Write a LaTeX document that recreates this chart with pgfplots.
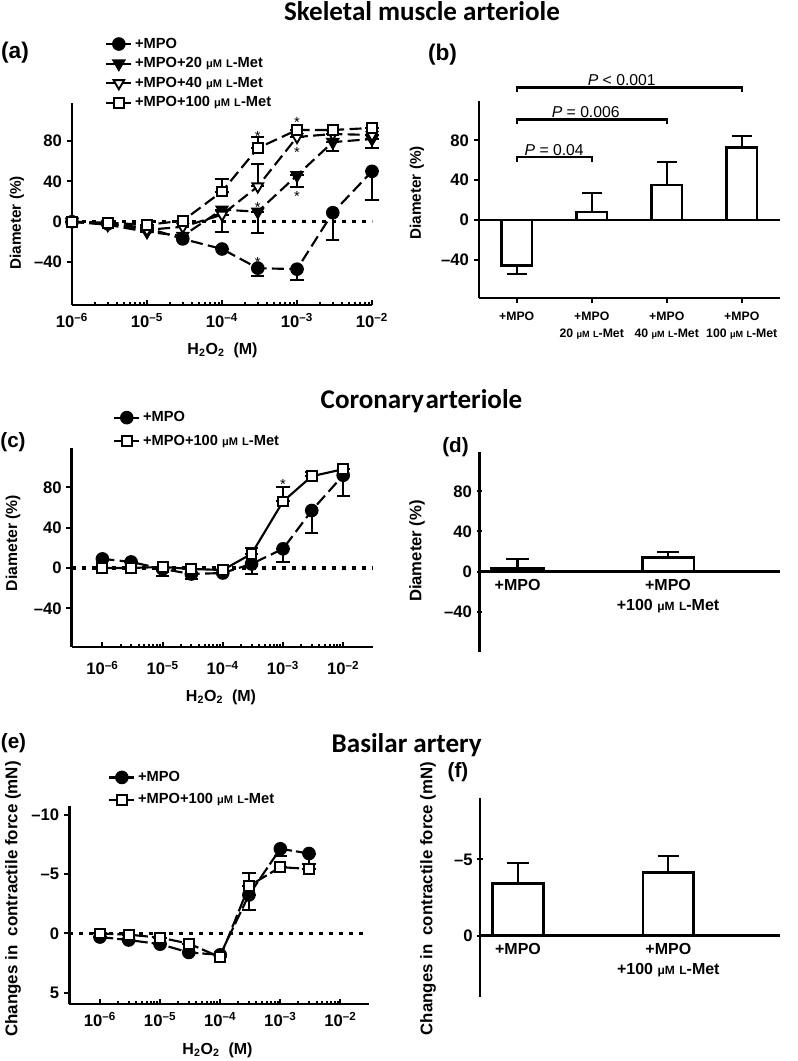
\documentclass[border=0pt]{standalone}
\usepackage{fontspec}
\setmainfont{Liberation Sans}
\newfontfamily\titlefont{Carlito}
\usepackage{pgfplots}
\usepackage{pgfplotstable}
\pgfplotsset{compat=1.18}

\newcommand\muM[1][8.3]{{\fontsize{#1}{#1}\selectfont μM}}
\newcommand\Lm[1][8.3]{{\fontsize{#1}{#1}\selectfont L}-Met}

\pgfplotsset{
  base/.style={scale only axis, anchor=south west, axis lines=left,
    axis line style={-, line width=2pt},
    every inner x axis line/.append style={-}, every outer x axis line/.append style={-},
    every inner y axis line/.append style={-}, every outer y axis line/.append style={-},
    tick style={black, line width=1.5pt},
    tick align=outside, major tick length=4pt, minor tick length=2.4pt,
    tick label style={font=\fontsize{12.5}{14}\selectfont\bfseries},
    clip=false, legend cell align=left,
    legend style={draw=none, fill=none, anchor=north west,
      font=\fontsize{11}{12}\selectfont\bfseries, row sep=1.5pt, inner sep=0pt},
    legend image code/.code={\draw[mark repeat=2,mark phase=2,##1,solid] plot coordinates {(0cm,0cm) (0.33cm,0cm) (0.66cm,0cm)};},
  },
  mylogticks/.style={xtick align=inside, xtick={1e-6,1e-5,1e-4,1e-3,1e-2},
    xticklabels={10\textsuperscript{–6},10\textsuperscript{–5},10\textsuperscript{–4},10\textsuperscript{–3},10\textsuperscript{–2}},
    xticklabel style={yshift=-3pt}},
  zeroline/.style={forget plot, black, line width=2.6pt, dash pattern=on 3pt off 4.5pt, mark=none},
  errb/.style={forget plot, draw=none, mark=none,
    /pgfplots/error bars/y dir=both, /pgfplots/error bars/y explicit,
    /pgfplots/error bars/error bar style={draw=black, solid, line width=1.5pt},
    /pgfplots/error bars/error mark options={draw=black, solid, rotate=90, line width=1.5pt, mark size=5pt}},
  ser/.style={black, line width=1.6pt},
  dsh/.style={dash pattern=on 9pt off 4pt},
  mcirc/.style={mark=*, mark size=4.3pt, mark options={solid, fill=black}},
  mtri/.style={mark=triangle*, mark size=4.6pt, mark options={solid, fill=black, rotate=180}},
  motri/.style={mark=triangle*, mark size=4.6pt, mark options={solid, fill=white, line width=1.4pt, rotate=180}},
  msq/.style={mark=square*, mark size=3.7pt, mark options={solid, fill=white, line width=1.5pt}},
  barst/.style={ybar, bar width=#1, fill=white, draw=black, line width=2pt,
    /pgfplots/error bars/y dir=both, /pgfplots/error bars/y explicit,
    /pgfplots/error bars/error bar style={line width=1.6pt, solid},
    /pgfplots/error bars/error mark options={line width=1.6pt, rotate=90, mark size=7.5pt, solid}},
}

\pgfplotstableread{
x y ep em
1e-6 0 0 0
3e-6 -2 0 0
1e-5 -6 0 0
3e-5 -17 0 0
1e-4 -27 0 0
3e-4 -46 0 8
1e-3 -47 0 11
3e-3 9 0 27
1e-2 50 0 28
}\aMPO
\pgfplotstableread{
x y ep em
1e-6 0 0 0
3e-6 -3 0 0
1e-5 -10 0 0
3e-5 -14 0 0
1e-4 12 0 22
3e-4 10 0 21
1e-3 46 0 12
3e-3 79 0 9
1e-2 82 0 9
}\aTwenty
\pgfplotstableread{
x y ep em
1e-6 0 0 0
3e-6 -2 0 0
1e-5 -8 0 0
3e-5 -5 0 0
1e-4 7 0 0
3e-4 35 22 0
1e-3 84 0 0
3e-3 87 0 0
1e-2 86 0 0
}\aForty
\pgfplotstableread{
x y ep em
1e-6 0 0 0
3e-6 -1 0 0
1e-5 -3 0 0
3e-5 1 0 0
1e-4 30 12 0
3e-4 73 11 0
1e-3 91 0 0
3e-3 91 0 0
1e-2 93 0 0
}\aHund
\pgfplotstableread{
x y ep em
0 -46 0 8
1 8 19 0
2 35 23 0
3 73 11 0
}\bBars
\pgfplotstableread{
x y ep em
1e-6 9 0 0
3e-6 6 0 0
1e-5 -1 0 7
3e-5 -6 0 5
1e-4 -5 0 0
3e-4 4 0 10
1e-3 19 0 13
3e-3 57 0 22
1e-2 92 0 21
}\cMPO
\pgfplotstableread{
x y ep em
1e-6 0 0 0
3e-6 0 0 0
1e-5 1 0 0
3e-5 -1 0 0
1e-4 -2 0 0
3e-4 14 6 0
1e-3 66 14 0
3e-3 91 4 0
1e-2 98 0 0
}\cHund
\pgfplotstableread{
x y ep em
0 3 10 0
1 14 6 0
}\dBars
\pgfplotstableread{
x y ep em
1e-6 0.3 0 0
3e-6 0.55 0 0
1e-5 0.9 0 0
3e-5 1.6 0 0
1e-4 1.8 0 0
3e-4 -3.25 1.25 0
1e-3 -7.15 0.65 0
3e-3 -6.75 0.85 0
}\eMPO
\pgfplotstableread{
x y ep em
1e-6 0 0 0
3e-6 0.1 0 0
1e-5 0.35 0 0
3e-5 0.85 0 0
1e-4 2.0 0 0
3e-4 -4.0 0 1.1
1e-3 -5.6 0 0
3e-3 -5.45 0 0
}\eHund
\pgfplotstableread{
x y ep em
0 -3.43 0 1.31
1 -4.13 0 1.09
}\fBars

\begin{document}
\begin{tikzpicture}
\path[use as bounding box] (0,0) rectangle (597.75pt,795.75pt);

% titles
\node[font={\titlefont\bfseries\fontsize{20.3}{20}\selectfont}, anchor=base] at ({422*0.75pt},{(1061-20.7)*0.75pt}) {Skeletal muscle arteriole};
\node[font={\titlefont\bfseries\fontsize{20.3}{20}\selectfont}, anchor=base] at ({421.5*0.75pt},{(1061-408.3)*0.75pt}) {Coronary\kern0.06em arteriole};
\node[font={\titlefont\bfseries\fontsize{20.3}{20}\selectfont}, anchor=base] at ({406.7*0.75pt},{(1061-753)*0.75pt}) {Basilar artery};

% panel letters
\node[font={\bfseries\fontsize{17}{17}\selectfont}] at ({15*0.75pt},{(1061-53)*0.75pt}) {(a)};
\node[font={\bfseries\fontsize{17}{17}\selectfont}] at ({442.5*0.75pt},{(1061-55)*0.75pt}) {(b)};
\node[font={\bfseries\fontsize{15.5}{15.5}\selectfont}] at ({13*0.75pt},{(1061-442)*0.75pt}) {(c)};
\node[font={\bfseries\fontsize{15.5}{15.5}\selectfont}] at ({455.5*0.75pt},{(1061-447)*0.75pt}) {(d)};
\node[font={\bfseries\fontsize{15.5}{15.5}\selectfont}] at ({13.5*0.75pt},{(1061-743.5)*0.75pt}) {(e)};
\node[font={\bfseries\fontsize{15.5}{15.5}\selectfont}] at ({458*0.75pt},{(1061-772)*0.75pt}) {(f)};

% y labels
\node[rotate=90, font={\bfseries\fontsize{11.5}{12}\selectfont}] at ({17*0.75pt},{(1061-223)*0.75pt}) {Diameter (\%)};
\node[rotate=90, font={\bfseries\fontsize{11.5}{12}\selectfont}] at ({417*0.75pt},{(1061-193)*0.75pt}) {Diameter (\%)};
\node[rotate=90, font={\bfseries\fontsize{11.8}{12}\selectfont}] at ({13*0.75pt},{(1061-543)*0.75pt}) {Diameter (\%)};
\node[rotate=90, font={\bfseries\fontsize{12.5}{12}\selectfont}] at ({417*0.75pt},{(1061-551)*0.75pt}) {Diameter (\%)};
\node[rotate=90, font={\bfseries\fontsize{12.7}{14}\selectfont}] at ({13*0.75pt},{(1061-899)*0.75pt}) {Changes in \ contractile force (mN)};
\node[rotate=90, font={\bfseries\fontsize{12.6}{12}\selectfont}] at ({428*0.75pt},{(1061-898.5)*0.75pt}) {Changes in \ contractile force (mN)};

% x labels
\node[font={\bfseries\fontsize{12}{12}\selectfont}] at ({222.5*0.75pt},{(1061-350)*0.75pt}) {H\textsubscript{2}O\textsubscript{2} \ (M)};
\node[font={\bfseries\fontsize{12}{12}\selectfont}] at ({221*0.75pt},{(1061-697)*0.75pt}) {H\textsubscript{2}O\textsubscript{2} \ (M)};
\node[font={\bfseries\fontsize{12}{12}\selectfont}] at ({217.5*0.75pt},{(1061-1050)*0.75pt}) {H\textsubscript{2}O\textsubscript{2} \ (M)};

% ---------------- (a)
\begin{axis}[base, xmode=log, mylogticks, at={(54pt,567pt)}, width=225pt, height=151.7pt,
  xmin=1e-6, xmax=1e-2, ymin=-82.5, ymax=118,
  ytick={-40,0,40,80}, yticklabels={–40,0,40,80},
  legend style={at={(0.11,1.335)}}]
\addplot[zeroline] coordinates {(1e-6,0) (1e-2,0)};
\addplot[errb] table[x=x,y=y,y error plus=ep,y error minus=em]{\aMPO};
\addplot[errb] table[x=x,y=y,y error plus=ep,y error minus=em]{\aTwenty};
\addplot[errb] table[x=x,y=y,y error plus=ep,y error minus=em]{\aForty};
\addplot[errb] table[x=x,y=y,y error plus=ep,y error minus=em]{\aHund};
\addplot[ser, dsh, mcirc] table[x=x,y=y]{\aMPO};
\addlegendentry{+MPO}
\addplot[ser, dsh, mtri] table[x=x,y=y]{\aTwenty};
\addlegendentry{+MPO+20 \muM\ \Lm}
\addplot[ser, dsh, motri] table[x=x,y=y]{\aForty};
\addlegendentry{+MPO+40 \muM\ \Lm}
\addplot[ser, dsh, msq] table[x=x,y=y]{\aHund};
\addlegendentry{+MPO+100 \muM\ \Lm}
\node[font=\fontsize{11}{11}\selectfont] at (axis cs:3e-4,85) {*};
\node[font=\fontsize{11}{11}\selectfont] at (axis cs:1e-3,98) {*};
\node[font=\fontsize{11}{11}\selectfont] at (axis cs:3e-4,14.5) {*};
\node[font=\fontsize{11}{11}\selectfont] at (axis cs:1e-3,69) {*};
\node[font=\fontsize{11}{11}\selectfont] at (axis cs:1e-3,25) {*};
\node[font=\fontsize{11}{11}\selectfont] at (axis cs:3e-4,-40) {*};
\end{axis}

% ---------------- (b)
\begin{axis}[base, at={(359.25pt,572.25pt)}, width=225.75pt, height=148pt,
  xmin=-0.503, xmax=3.51, ymin=-78.3, ymax=119.8,
  ytick={-40,0,40,80}, yticklabels={–40,0,40,80},
  xtick={0,1,2,3},
  xticklabels={+MPO, {+MPO\\20 \muM[6.8] \Lm[6.8]}, {+MPO\\40 \muM[6.8] \Lm[6.8]}, {+MPO\\100 \muM[6.8] \Lm[6.8]}},
  xticklabel style={align=center, yshift=-3pt, font=\fontsize{9.2}{12.8}\selectfont\bfseries}]
\addplot[forget plot, black, line width=2pt, mark=none] coordinates {(-0.503,0) (3.51,0)};
\addplot[barst=0.41] table[x=x,y=y,y error plus=ep,y error minus=em]{\bBars};
\draw[line width=1.7pt] (axis cs:0,58) -- (axis cs:0,63) -- (axis cs:1,63) -- (axis cs:1,58);
\draw[line width=1.7pt] (axis cs:0,96) -- (axis cs:0,101) -- (axis cs:2,101) -- (axis cs:2,96);
\draw[line width=1.7pt] (axis cs:0,128) -- (axis cs:0,133) -- (axis cs:3,133) -- (axis cs:3,128);
\node[anchor=base, font=\fontsize{11.8}{12}\selectfont] at (axis cs:0.5,65) {\textit{P} = 0.04};
\node[anchor=base, font=\fontsize{11.8}{12}\selectfont] at (axis cs:0.92,103) {\textit{P} = 0.006};
\node[anchor=base, font=\fontsize{11.8}{12}\selectfont] at (axis cs:1.4,135) {\textit{P} < 0.001};
\end{axis}

% ---------------- (c)
\begin{axis}[base, xmode=log, mylogticks, at={(53.78pt,310.5pt)}, width=225.75pt, height=149pt,
  xticklabel style={yshift=-4pt},
  xmin=3.09e-7, xmax=3.09e-2, ymin=-78.4, ymax=118.7,
  ytick={-40,0,40,80}, yticklabels={–40,0,40,80},
  legend style={at={(0.137,1.2)}, row sep=4.5pt}]
\addplot[zeroline] coordinates {(3.09e-7,0) (3.09e-2,0)};
\addplot[errb] table[x=x,y=y,y error plus=ep,y error minus=em]{\cMPO};
\addplot[errb] table[x=x,y=y,y error plus=ep,y error minus=em]{\cHund};
\addplot[ser, dsh, mcirc] table[x=x,y=y]{\cMPO};
\addlegendentry{+MPO}
\addplot[ser, msq] table[x=x,y=y]{\cHund};
\addlegendentry{+MPO+100 \muM\ \Lm}
\node[font=\fontsize{11}{11}\selectfont] at (axis cs:1e-3,83) {*};
\end{axis}

% ---------------- (d)
\begin{axis}[base, axis x line=middle, axis y line=left, at={(359.5pt,306.98pt)}, width=225.5pt, height=150pt,
  axis line style={-}, 
  xmin=-0.254, xmax=1.744, ymin=-79.6, ymax=119.4,
  ytick={-40,0,40,80}, yticklabels={–40,0,40,80},
  xtick={0,1}, xtick style={draw=none},
  xticklabels={+MPO, {+MPO\\+100 \muM[9] \Lm[9]}},
  xticklabel style={align=center, anchor=north, font=\fontsize{12}{15.5}\selectfont\bfseries}]
\addplot[barst=0.343, /pgfplots/error bars/error mark options={line width=1.6pt, rotate=90, mark size=8.5pt, solid}] table[x=x,y=y,y error plus=ep,y error minus=em]{\dBars};
\end{axis}

% ---------------- (e)
\begin{axis}[base, xmode=log, mylogticks, at={(51.98pt,42.75pt)}, width=225pt, height=148.5pt,
  xmin=3.09e-7, xmax=3.02e-2, y dir=reverse, ymin=-10.76, ymax=5.95,
  ytick={-10,-5,0,5}, yticklabels={–10,–5,0,5},
  legend style={at={(0.129,1.19)}, row sep=3.5pt}]
\addplot[zeroline] coordinates {(3.09e-7,0) (3.02e-2,0)};
\addplot[errb] table[x=x,y=y,y error plus=ep,y error minus=em]{\eMPO};
\addplot[errb] table[x=x,y=y,y error plus=ep,y error minus=em]{\eHund};
\addplot[ser, dash pattern=on 10pt off 3pt, mcirc] table[x=x,y=y]{\eMPO};
\addlegendentry{+MPO}
\addplot[ser, dash pattern=on 10pt off 3pt, msq] table[x=x,y=y]{\eHund};
\addlegendentry{+MPO+100 \muM\ \Lm}
\end{axis}

% ---------------- (f)
\begin{axis}[base, axis x line=middle, axis y line=left, at={(360pt,48.2pt)}, width=225pt, height=148.8pt,
  axis line style={-},
  xmin=-0.253, xmax=1.743, y dir=reverse, ymin=-9.0, ymax=4.0,
  ytick={-5,0}, yticklabels={–5,0},
  xtick={0,1}, xtick style={draw=none},
  xticklabels={+MPO, {+MPO\\+100 \muM[9] \Lm[9]}},
  xticklabel style={align=center, anchor=north, font=\fontsize{12}{15.5}\selectfont\bfseries}]
\addplot[barst=0.337, /pgfplots/error bars/error mark options={line width=1.6pt, rotate=90, mark size=8pt, solid}] table[x=x,y=y,y error plus=ep,y error minus=em]{\fBars};
\end{axis}

\end{tikzpicture}
\end{document}
